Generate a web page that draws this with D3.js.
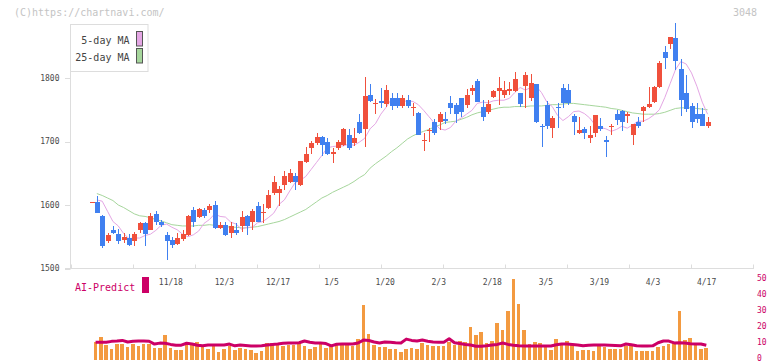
<!DOCTYPE html>
<html><head><meta charset="utf-8">
<script src="https://cdn.jsdelivr.net/npm/d3@7"></script>
<style>
html,body{margin:0;padding:0;background:#fff;}
svg{display:block;}
text{font-family:"DejaVu Sans Mono",monospace;}
</style></head>
<body><svg id="c" width="772" height="361"></svg>
<script>
// ---- data ----
const tickIndex  = [15,25,35,45,55,65,75,85,95,105,115];
const tickLabels = ["11/18","12/3","12/17","1/5","1/20","2/3","2/18","3/5","3/19","4/3","4/17"];
const priceTicks = [1500,1600,1700,1800];
const volTicks   = [0,10,20,30,40,50];

const open = [1604,1604,1582,1543,1560,1555,1545,1548,1543,1561,
1572,1561,1586,1574,1552,1545,1539,1547,1553,1592,
1581,1592,1592,1600,1564,1569,1556,1560,1567,1582,
1574,1599,1587,1595,1619,1619,1631,1637,1646,1632,
1667,1689,1697,1707,1700,1681,1689,1694,1711,1698,
1730,1719,1774,1759,1764,1759,1768,1768,1756,1766,
1753,1745,1701,1716,1730,1730,1736,1760,1757,1768,
1757,1779,1796,1755,1746,1770,1780,1774,1779,1779,
1776,1787,1768,1790,1725,1757,1721,1755,1785,1781,
1740,1714,1719,1705,1714,1725,1703,1724,1744,1748,
1740,1710,1731,1748,1754,1762,1786,1841,1853,1863,
1814,1777,1756,1743,1743,1724];
const high = [1605,1614,1584,1556,1567,1562,1556,1555,1557,1574,
1573,1588,1590,1577,1557,1550,1556,1560,1584,1597,
1596,1595,1602,1606,1573,1573,1573,1571,1590,1584,
1594,1604,1601,1623,1646,1630,1654,1657,1651,1670,
1692,1701,1713,1709,1705,1690,1703,1722,1720,1722,
1744,1801,1790,1767,1785,1789,1776,1777,1774,1773,
1760,1746,1713,1722,1735,1746,1747,1771,1760,1769,
1782,1789,1799,1765,1765,1781,1801,1795,1794,1810,
1777,1809,1806,1791,1728,1764,1740,1761,1790,1790,
1743,1739,1723,1724,1741,1737,1708,1727,1750,1750,
1746,1728,1738,1756,1786,1787,1827,1851,1865,1886,
1830,1805,1760,1760,1752,1738];
const low = [1604,1588,1533,1540,1555,1539,1540,1535,1536,1556,
1536,1561,1569,1566,1514,1532,1537,1544,1551,1566,
1580,1580,1587,1562,1562,1551,1548,1553,1557,1553,
1561,1573,1572,1593,1615,1598,1623,1634,1624,1630,
1666,1680,1694,1677,1679,1666,1686,1693,1687,1693,
1712,1691,1762,1743,1752,1754,1750,1752,1753,1752,
1740,1710,1685,1699,1711,1718,1727,1743,1729,1739,
1752,1773,1762,1732,1743,1769,1757,1769,1773,1778,
1754,1752,1764,1729,1691,1719,1705,1721,1753,1757,
1711,1712,1704,1698,1707,1716,1676,1710,1726,1716,
1729,1694,1721,1730,1752,1760,1784,1814,1845,1813,
1740,1746,1722,1729,1724,1721];
const close = [1605,1588,1535,1552,1556,1544,1550,1537,1555,1572,
1555,1583,1573,1569,1543,1537,1548,1555,1583,1574,
1593,1582,1599,1564,1569,1553,1567,1556,1581,1567,
1590,1574,1589,1616,1636,1625,1646,1650,1636,1669,
1680,1698,1707,1695,1681,1684,1699,1719,1689,1705,
1713,1772,1763,1761,1760,1781,1756,1756,1768,1756,
1755,1711,1703,1718,1713,1744,1732,1752,1743,1746,
1774,1785,1762,1739,1759,1779,1784,1781,1782,1798,
1759,1804,1792,1730,1723,1724,1737,1752,1761,1761,
1730,1718,1713,1710,1741,1719,1699,1725,1734,1730,
1744,1727,1724,1755,1759,1786,1823,1831,1864,1826,
1766,1751,1730,1736,1724,1731];
const ma5 = [null,1608,1606,1590,1574,1567,1555,1547,1548,1548,
1552,1554,1560,1568,1570,1565,1561,1554,1550,1553,
1559,1571,1577,1586,1582,1581,1573,1570,1562,1565,
1565,1572,1574,1580,1587,1601,1608,1622,1635,1639,
1645,1656,1667,1678,1690,1692,1693,1693,1696,1694,
1699,1705,1720,1728,1743,1754,1767,1764,1763,1764,
1763,1758,1749,1739,1729,1720,1718,1722,1732,1737,
1743,1749,1760,1762,1761,1764,1765,1765,1768,1777,
1785,1781,1785,1787,1777,1762,1755,1741,1733,1739,
1747,1748,1744,1737,1726,1722,1720,1716,1719,1724,
1721,1726,1732,1732,1736,1742,1750,1769,1791,1813,
1826,1822,1808,1787,1762,1743];
const ma25 = [null,1618,1615,1611,1607,1600,1596,1591,1586,1583,
1582,1580,1577,1575,1572,1569,1568,1567,1567,1567,
1568,1568,1569,1568,1567,1566,1565,1565,1564,1564,
1565,1566,1568,1570,1572,1574,1577,1581,1585,1589,
1593,1599,1605,1611,1615,1620,1624,1628,1632,1637,
1643,1648,1658,1665,1671,1677,1684,1690,1697,1704,
1709,1713,1716,1719,1723,1726,1730,1731,1732,1735,
1738,1742,1745,1747,1749,1751,1753,1754,1754,1755,
1755,1755,1756,1756,1756,1757,1758,1758,1759,1760,
1760,1759,1758,1757,1756,1755,1754,1752,1751,1749,
1747,1745,1744,1743,1743,1743,1744,1746,1749,1752,
1753,1753,1753,1752,1751,1750];
const volume = [null,9.8,13.1,8.1,5.6,8.7,8.7,6.9,8.7,7.5,
8.7,8.9,6.3,6.3,14.4,6.5,5.0,5.0,8.1,8.0,
10,6.9,5.6,7.3,3.8,5.6,7.5,5.0,6.4,5.6,
5.0,3.1,4.4,9.5,9.2,9.5,7.8,8.4,8.1,9.1,
7.8,5.9,6.9,8.8,6.3,7.2,8.7,8.1,8.7,7.5,
11.9,33.1,15,8.1,6.9,6.9,5.6,5.6,4.0,5.6,
6.3,5.6,9.5,8.1,7.5,7.5,7.5,10,8.1,10.6,
10,19.4,14.4,16.3,9.4,10.6,21.9,17.5,29.4,49.4,
33.8,17.5,8.8,10,9.4,6.9,5,11.9,8.8,10.6,
8.1,4.4,5,5,4.4,7.5,6.9,5.6,5.6,5.6,
7.5,7.5,4.4,4.4,4.4,4.4,6.9,7.5,8.8,9.4,
29.4,11.3,12.5,8.1,5.6,6.3];
const aiPredict = [null,9.8,9.8,9.8,10.4,10.6,11.0,10.0,10.5,10.6,
10.6,10.5,8.7,9.3,9.2,8.5,8.0,8.0,9.2,8.8,
8.0,7.6,8.1,8.1,8.1,8.1,8.7,7.6,8.1,7.8,
7.5,7.5,7.6,8.1,8.5,8.7,9.2,9.4,9.4,9.5,
10.6,9.8,9.4,9.4,9.0,7.6,8.6,8.7,8.7,8.7,
9.4,11.2,10.9,10.0,9.4,10.0,9.8,9.5,9.4,11.8,
11.0,10.6,11.2,10.5,10.0,9.8,9.8,12.0,9.5,9.0,
8.5,8.1,7.4,7.3,7.6,8.1,8.5,9.4,8.5,8.0,
7.6,7.5,7.5,7.5,7.5,7.5,7.5,8.3,8.75,8.75,
8.5,8.1,7.6,8.0,8.1,8.1,8.1,8.0,7.8,7.6,
8.75,8.3,7.6,7.5,7.5,7.6,9.5,10.6,10.6,9.4,
9.6,9.4,8.9,8.75,8.75,8.0];

// ---- colours ----
const UP = "#f0503c", DOWN = "#4080f0", MA5C = "#e4a6e4", MA25C = "#a6d69c";
const VOLC = "#f39a40", AIC = "#cc0066", AXC = "#dddddd", LBL = "#4a4a4a";

const svg = d3.select("#c");
const n = close.length;
const x = d3.scaleLinear().domain([0, n - 1]).range([91.5, 707.6]);
const y = d3.scaleLinear().domain([1500, 1800]).range([268.5, 78]);
const yv = d3.scaleLinear().domain([0, 50]).range([358, 278]);
const frame = d3.scaleLinear().domain([0, 11]).range([71, 753]);

// watermark & code
svg.append("text").attr("x", 14).attr("y", 16).attr("font-size", 10)
  .attr("fill", "#c4c4c4").text("(C)https://chartnavi.com/");
svg.append("text").attr("x", 757).attr("y", 16).attr("font-size", 10)
  .attr("text-anchor", "end").attr("fill", "#c4c4c4").text("3048");

// axes lines
svg.append("line").attr("x1", 70.5).attr("x2", 70.5).attr("y1", 24).attr("y2", 269)
  .attr("stroke", AXC).attr("stroke-width", 1);
svg.append("line").attr("x1", 65).attr("x2", 753).attr("y1", 268.5).attr("y2", 268.5)
  .attr("stroke", AXC).attr("stroke-width", 1.2);
// y ticks & labels
const yAx = svg.append("g");
priceTicks.forEach(t => {
  yAx.append("line").attr("x1", 65).attr("x2", 70.5).attr("y1", Math.round(y(t)) + 0.5)
    .attr("y2", Math.round(y(t)) + 0.5).attr("stroke", AXC);
  yAx.append("text").attr("x", 59.5).attr("y", y(t)).attr("dy", "0.35em")
    .attr("text-anchor", "end").attr("font-size", 8).attr("fill", LBL).text(t);
});
// x frame ticks
d3.range(0, 12).forEach(k => {
  svg.append("line").attr("x1", Math.round(frame(k)) + 0.5).attr("x2", Math.round(frame(k)) + 0.5)
    .attr("y1", 264.5).attr("y2", 269).attr("stroke", AXC);
});
// x labels
tickIndex.forEach((ix, j) => {
  svg.append("text").attr("x", x(ix) - 1).attr("y", 284.5).attr("text-anchor", "middle")
    .attr("font-size", 8).attr("fill", LBL).text(tickLabels[j]);
});

// moving averages
const lineGen = arr => d3.line().defined(d => d != null)
  .x((d, i) => x(i)).y(d => y(d))(arr);
svg.append("path").attr("d", lineGen(ma25)).attr("fill", "none")
  .attr("stroke", MA25C).attr("stroke-width", 1);
svg.append("path").attr("d", lineGen(ma5)).attr("fill", "none")
  .attr("stroke", MA5C).attr("stroke-width", 1);

// candles
const cg = svg.append("g").attr("shape-rendering", "crispEdges");
close.forEach((c, i) => {
  const o = open[i], col = c >= o ? UP : DOWN;
  const cx = Math.round(x(i));
  cg.append("rect").attr("x", cx).attr("width", 1)
    .attr("y", Math.round(y(high[i]))).attr("height", Math.max(1, Math.round(y(low[i])) - Math.round(y(high[i]))))
    .attr("fill", col);
  const top = Math.round(y(Math.max(o, c))), bot = Math.round(y(Math.min(o, c)));
  cg.append("rect").attr("x", cx - 2).attr("width", 5)
    .attr("y", top).attr("height", Math.max(1, bot - top)).attr("fill", col);
});

// legend
svg.append("rect").attr("x", 70.5).attr("y", 24.5).attr("width", 77.5).attr("height", 47)
  .attr("fill", "#fff").attr("stroke", AXC);
[["5-day MA", MA5C, 44], ["25-day MA", MA25C, 61]].forEach(([t, c, yy]) => {
  svg.append("text").attr("x", 129.5).attr("y", yy).attr("text-anchor", "end")
    .attr("font-size", 10).attr("fill", "#444").text(t);
  svg.append("rect").attr("x", 136.5).attr("y", yy - 12.5).attr("width", 6).attr("height", 14.5)
    .attr("fill", c).attr("stroke", "#555").attr("stroke-width", 1);
});

// volume
const vg = svg.append("g").attr("shape-rendering", "crispEdges");
volume.forEach((v, i) => {
  if (v == null) return;
  vg.append("rect").attr("x", x(i) - 3.2).attr("width", 3.6)
    .attr("y", yv(v)).attr("height", yv(0) - yv(v) + 2).attr("fill", VOLC);
});
svg.append("path").attr("d", d3.line().defined(d => d != null)
    .x((d, i) => x(i) - 1.3).y(d => yv(d))(aiPredict))
  .attr("fill", "none").attr("stroke", AIC).attr("stroke-width", 3).attr("stroke-linejoin", "round");

// right volume axis labels
volTicks.forEach(t => {
  svg.append("text").attr("x", 757).attr("y", Math.min(yv(t) + 2.8, 360.5))
    .attr("font-size", 8).attr("fill", AIC).text(t);
});

// AI-Predict label
svg.append("text").attr("x", 75).attr("y", 290.5).attr("font-size", 10)
  .attr("fill", AIC).text("AI-Predict");
svg.append("rect").attr("x", 142).attr("y", 277).attr("width", 7).attr("height", 16).attr("fill", AIC);
</script>
</body></html>
